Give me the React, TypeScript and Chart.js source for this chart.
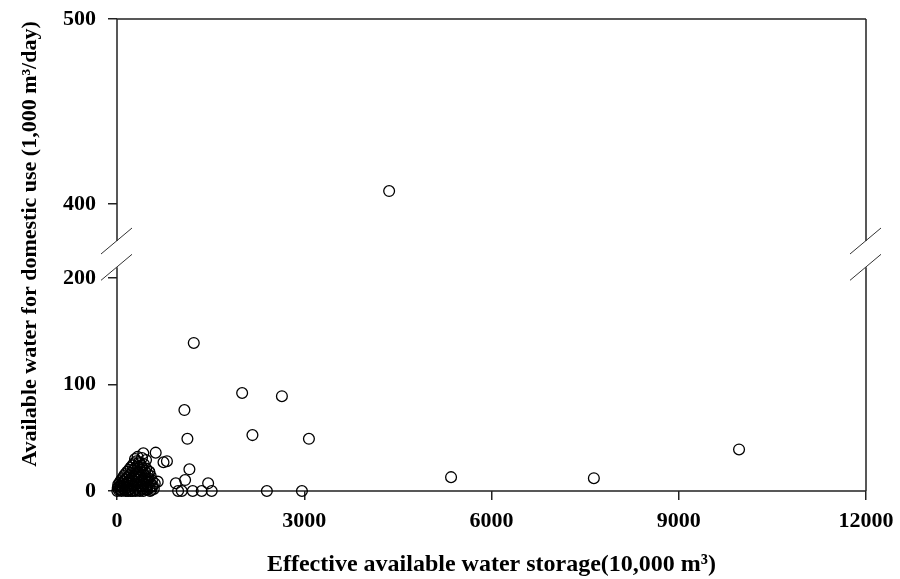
import React, { useEffect, useRef } from "react";
import { Chart, registerables } from "chart.js";

Chart.register(...registerables);

// Effective available water storage (10,000 m3)
const storageX = [
  4360, 1230, 2005, 2642, 1080, 1128, 2170, 3075, 9966, 5352, 7640,
  745, 800, 620, 422, 289, 465, 1160, 652, 518, 369, 1091, 942, 1460,
  979, 1038, 1213, 1357, 1517, 2401, 2963, 330, 400,
  5, 12, 20, 28, 35, 42, 50,
  58, 65, 72, 80, 88, 95,
  102, 110, 118, 125, 132, 140, 148,
  155, 162, 170, 178, 185, 192, 198,
  205, 212, 218, 225, 232, 240, 246,
  252, 258, 265, 272, 278, 285, 292, 298,
  305, 312, 318, 325, 332, 338, 345,
  352, 358, 365, 372, 378, 385, 392, 398,
  405, 412, 418, 425, 432, 440, 446,
  452, 460, 468, 475, 482, 490, 496,
  505, 515, 522, 530, 540, 550, 560, 575, 590, 605,
  60, 140, 220, 300, 340, 420, 470, 530, 560, 250, 180, 400, 480, 320,
];
// Available water for domestic use (1,000 m3/day)
const domesticY = [
  407, 139, 92, 89, 76, 49, 52.5, 49, 39, 13, 12,
  27, 28, 36, 35.4, 30, 29, 20.4, 8.8, 18, 26, 10.3, 7.2, 7.2,
  0, 0, 0, 0, 0, 0, 0, 32, 31,
  0, 3, 6, 1, 4, 8, 2,
  5, 10, 0, 7, 12, 3,
  9, 14, 1, 6, 16, 11, 3,
  8, 18, 13, 0, 5, 20, 10,
  15, 2, 22, 7, 17, 12, 24,
  4, 19, 9, 26, 14, 1, 21, 6,
  16, 28, 11, 3, 23, 18, 8,
  27, 13, 0, 20, 5, 24, 15, 10,
  22, 2, 17, 7, 25, 12, 19,
  4, 14, 21, 9, 1, 16, 6,
  12, 18, 3, 8, 14, 1, 10, 5, 2, 7,
  1, 0, 0, 0, 1, 0, 2, 0, 4, 0, 1, 4, 11, 7,
];
const xTickValues = [0, 3000, 6000, 9000, 12000];
const yTickValues = [0, 100, 200, 400, 500];

// broken axis mapping (data value -> display value)
const LOWER_MAX = 210;
const UPPER_MIN = 380;
const UPPER_START = 234.7;
const UPPER_SCALE = 1.737;
const Y_MAX = 500;
const toDisplay = (v: number) =>
  v <= LOWER_MAX ? v : UPPER_START + (v - UPPER_MIN) * UPPER_SCALE;

const FONT = "'Liberation Serif', 'Times New Roman', serif";

const brokenFrame = {
  id: "brokenFrame",
  beforeDatasetsDraw(chart: any) {
    const { ctx, chartArea, scales } = chart;
    const { left, right, top, bottom } = chartArea;
    const y = scales.y;
    const yLowTop = y.getPixelForValue(toDisplay(LOWER_MAX));
    const yUpBottom = y.getPixelForValue(toDisplay(UPPER_MIN));
    ctx.save();
    ctx.strokeStyle = "#222";
    ctx.lineWidth = 1.5;
    ctx.beginPath();
    ctx.moveTo(left, top);
    ctx.lineTo(right, top);
    ctx.moveTo(left, bottom);
    ctx.lineTo(right, bottom);
    for (const x of [left, right]) {
      ctx.moveTo(x, top);
      ctx.lineTo(x, yUpBottom);
      ctx.moveTo(x, yLowTop);
      ctx.lineTo(x, bottom);
    }
    ctx.stroke();
    ctx.lineWidth = 1;
    ctx.strokeStyle = "#333";
    ctx.beginPath();
    for (const x of [left, right]) {
      for (const yc of [yUpBottom, yLowTop]) {
        ctx.moveTo(x - 16, yc + 13);
        ctx.lineTo(x + 15, yc - 13);
      }
    }
    ctx.stroke();
    ctx.restore();
  },
};

export default function App() {
  const ref = useRef<HTMLCanvasElement>(null);
  useEffect(() => {
    document.body.style.margin = "0";
    const points = storageX.map((x, i) => ({ x, y: toDisplay(domesticY[i]) }));
    const chart = new Chart(ref.current as HTMLCanvasElement, {
      type: "scatter",
      data: {
        datasets: [
          {
            data: points,
            pointStyle: "circle",
            pointRadius: 5.4,
            pointBorderWidth: 1.3,
            borderColor: "#000",
            backgroundColor: "rgba(0,0,0,0)",
            clip: false as any,
          },
        ],
      },
      options: {
        responsive: false,
        animation: false,
        layout: { padding: { top: 19, right: 34, left: 0, bottom: 0 } },
        plugins: { legend: { display: false }, tooltip: { enabled: false } },
        scales: {
          x: {
            type: "linear",
            min: 0,
            max: 12000,
            afterBuildTicks: (s: any) => {
              s.ticks = xTickValues.map((v) => ({ value: v }));
            },
            afterFit: (s: any) => {
              s.height = 88;
              s.paddingLeft = 0;
              s.paddingRight = 0;
            },
            ticks: {
              color: "#000",
              padding: 8,
              font: { family: FONT, size: 22, weight: "bold" },
              callback: (v: any) => String(v),
            },
            grid: {
              display: true,
              drawOnChartArea: false,
              drawTicks: true,
              tickLength: 9,
              color: "#222",
              lineWidth: 1.5,
            },
            border: { display: false },
            title: {
              display: true,
              text: "Effective available water storage(10,000 m³)",
              color: "#000",
              font: { family: FONT, size: 24, weight: "bold" },
              padding: { top: 0, bottom: 0 },
            },
          },
          y: {
            type: "linear",
            min: 0,
            max: toDisplay(Y_MAX),
            afterBuildTicks: (s: any) => {
              s.ticks = yTickValues.map((v) => ({ value: toDisplay(v) }));
            },
            afterFit: (s: any) => {
              s.width = 117;
              s.paddingTop = 0;
              s.paddingBottom = 0;
            },
            ticks: {
              color: "#000",
              padding: 12,
              autoSkip: false,
              font: { family: FONT, size: 22, weight: "bold" },
              callback: (v: any) => {
                const idx = yTickValues.findIndex((t) => Math.abs(toDisplay(t) - v) < 0.01);
                return idx >= 0 ? String(yTickValues[idx]) : "";
              },
            },
            grid: {
              display: true,
              drawOnChartArea: false,
              drawTicks: true,
              tickLength: 9,
              color: "#222",
              lineWidth: 1.5,
            },
            border: { display: false },
            title: {
              display: true,
              text: "    Available water for domestic use (1,000 m³/day)",
              color: "#000",
              font: { family: FONT, size: 22, weight: "bold" },
              padding: { top: 17, bottom: 0 },
            },
          },
        },
      },
      plugins: [brokenFrame],
    });
    return () => chart.destroy();
  }, []);
  return <canvas ref={ref} width={900} height={579} style={{ display: "block" }} />;
}
